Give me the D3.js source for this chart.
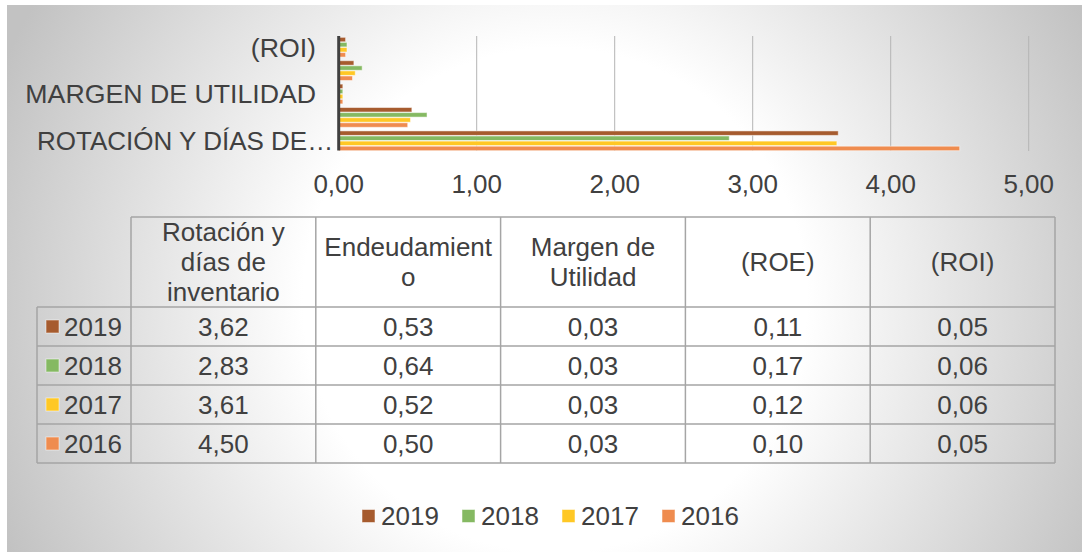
<!DOCTYPE html>
<html>
<head>
<meta charset="utf-8">
<script src="https://cdn.jsdelivr.net/npm/d3@7"></script>
<style>
  html, body { margin: 0; padding: 0; background: #ffffff; }
  svg { display: block; }
  text { font-family: "Liberation Sans", Arial, sans-serif; fill: #404040; }
</style>
</head>
<body>
<svg id="chart" width="1082" height="552"></svg>
<script>
// ---------- data ----------
const categories = ["Rotación y días de inventario", "Endeudamiento", "Margen de Utilidad", "(ROE)", "(ROI)"];
const years = ["2019", "2018", "2017", "2016"];
const values2019 = [3.62, 0.53, 0.03, 0.11, 0.05];
const values2018 = [2.83, 0.64, 0.03, 0.17, 0.06];
const values2017 = [3.61, 0.52, 0.03, 0.12, 0.06];
const values2016 = [4.50, 0.50, 0.03, 0.10, 0.05];
const axisLabels = ["ROTACIÓN Y DÍAS DE…", "", "MARGEN DE UTILIDAD", "", "(ROI)"];
const headerLabels = [["Rotación y", "días de", "inventario"], ["Endeudamient", "o"], ["Margen de", "Utilidad"], ["(ROE)"], ["(ROI)"]];
const xTicks = [0, 1, 2, 3, 4, 5];
const colors = ["#A65B2E", "#85B962", "#FFC825", "#EF8C4F"];

const seriesValues = [values2019, values2018, values2017, values2016];
const series = years.map((y, i) => ({ year: y, color: colors[i], values: seriesValues[i] }));

const locale = d3.formatLocale({ decimal: ",", thousands: ".", grouping: [3], currency: ["", ""] });
const fmt = locale.format(".2f");

const svg = d3.select("#chart");
const FS = 26;

// ---------- background ----------
const defs = svg.append("defs");
const grad = defs.append("radialGradient")
  .attr("id", "bg").attr("gradientUnits", "userSpaceOnUse")
  .attr("cx", 555).attr("cy", 300).attr("r", 600);
grad.append("stop").attr("offset", "0").attr("stop-color", "#ffffff");
grad.append("stop").attr("offset", "0.42").attr("stop-color", "#ffffff");
grad.append("stop").attr("offset", "1").attr("stop-color", "#c2c2c2");
svg.append("rect").attr("x", 7).attr("y", 5).attr("width", 1075).attr("height", 547).attr("fill", "url(#bg)");

// ---------- bar chart ----------
const x = d3.scaleLinear().domain([0, 5]).range([338.7, 1028.7]);
const y = d3.scaleBand().domain(categories.slice().reverse()).range([35.5, 152.5])
  .paddingInner(0.13).paddingOuter(0.065);
const yInner = d3.scaleBand().domain(years).range([0, y.bandwidth()]);

// gridlines
svg.append("g").selectAll("line").data(xTicks.filter(t => t > 0)).join("line")
  .attr("x1", d => x(d)).attr("x2", d => x(d))
  .attr("y1", 36).attr("y2", 151)
  .attr("stroke", "#b4b4b4").attr("stroke-width", 1);

// bars
const groups = svg.append("g").selectAll("g").data(series).join("g");
groups.selectAll("rect").data(s => s.values.map((v, i) => ({ v, cat: categories[i], year: s.year, color: s.color })))
  .join("rect")
  .attr("x", x(0))
  .attr("y", d => y(d.cat) + yInner(d.year) + 0.3)
  .attr("width", d => x(d.v) - x(0))
  .attr("height", yInner.bandwidth() - 0.6)
  .attr("fill", d => d.color)
  .attr("stroke", "rgba(255,255,255,0.5)")
  .attr("stroke-width", 1);

// vertical category axis line
svg.append("line")
  .attr("x1", x(0)).attr("x2", x(0)).attr("y1", 36).attr("y2", 150.5)
  .attr("stroke", "#404040").attr("stroke-width", 3);

// x tick labels
svg.append("g").selectAll("text").data(xTicks).join("text")
  .attr("x", d => x(d)).attr("y", 192.5)
  .attr("text-anchor", "middle").attr("font-size", FS)
  .text(d => fmt(d));

// category labels
svg.append("g").selectAll("text").data(categories.map((c, i) => ({ c, label: axisLabels[i] })).filter(d => d.label))
  .join("text")
  .attr("x", d => d.label.endsWith("…") ? 37 : 316)
  .attr("text-anchor", d => d.label.endsWith("…") ? "start" : "end")
  .attr("y", d => y(d.c) + y.bandwidth() / 2 + 9.3)
  .attr("font-size", d => d.label.endsWith("…") ? FS : 26.7)
  .text(d => d.label);

// ---------- data table ----------
const colX = d3.scaleBand().domain(categories).range([131, 1055]);
const rowY = d3.scaleBand().domain(years).range([307, 463]);
const headerTop = 217, headerBottom = 307;
const tableLeft = 37, tableRight = 1055;
const lineColor = "#a5a5a5";
const tg = svg.append("g");

// horizontal lines
tg.append("line").attr("x1", 131).attr("x2", tableRight).attr("y1", headerTop).attr("y2", headerTop)
  .attr("stroke", lineColor).attr("stroke-width", 1.5);
tg.selectAll(".hl").data(years.map(yr => rowY(yr)).concat([rowY(years[years.length - 1]) + rowY.bandwidth()]))
  .join("line").attr("class", "hl")
  .attr("x1", tableLeft).attr("x2", tableRight).attr("y1", d => d).attr("y2", d => d)
  .attr("stroke", lineColor).attr("stroke-width", 1.5);
// vertical lines
tg.append("line").attr("x1", tableLeft).attr("x2", tableLeft).attr("y1", headerBottom).attr("y2", 463)
  .attr("stroke", lineColor).attr("stroke-width", 1.5);
tg.selectAll(".vl").data(categories.map(c => colX(c)).concat([tableRight]))
  .join("line").attr("class", "vl")
  .attr("x1", d => d).attr("x2", d => d).attr("y1", headerTop).attr("y2", 463)
  .attr("stroke", lineColor).attr("stroke-width", 1.5);

// header text
const headerCenter = (headerTop + headerBottom) / 2;
categories.forEach((c, i) => {
  const lines = headerLabels[i];
  const t = tg.append("text").attr("text-anchor", "middle").attr("font-size", FS);
  lines.forEach((ln, j) => {
    t.append("tspan")
      .attr("x", colX(c) + colX.bandwidth() / 2)
      .attr("y", headerCenter + 9.3 + (j - (lines.length - 1) / 2) * 30)
      .text(ln);
  });
});

// row headers with legend keys
series.forEach(s => {
  const cy = rowY(s.year) + rowY.bandwidth() / 2;
  tg.append("rect").attr("x", 46).attr("y", cy - 6.5).attr("width", 13).attr("height", 13)
    .attr("fill", s.color).attr("stroke", "rgba(255,255,255,0.5)").attr("stroke-width", 1);
  tg.append("text").attr("x", 64).attr("y", cy + 9.3).attr("font-size", FS).text(s.year);
  s.values.forEach((v, i) => {
    tg.append("text")
      .attr("x", colX(categories[i]) + colX.bandwidth() / 2)
      .attr("y", cy + 9.3)
      .attr("text-anchor", "middle").attr("font-size", FS)
      .text(fmt(v));
  });
});

// ---------- legend ----------
const legX = d3.scaleBand().domain(years).range([362, 762]);
const lg = svg.append("g").selectAll("g").data(series).join("g")
  .attr("transform", d => `translate(${legX(d.year)},0)`);
lg.append("rect").attr("x", 0).attr("y", 509.5).attr("width", 13).attr("height", 13)
  .attr("fill", d => d.color).attr("stroke", "rgba(255,255,255,0.5)").attr("stroke-width", 1);
lg.append("text").attr("x", 19).attr("y", 524.5).attr("font-size", FS).text(d => d.year);
</script>
</body>
</html>
